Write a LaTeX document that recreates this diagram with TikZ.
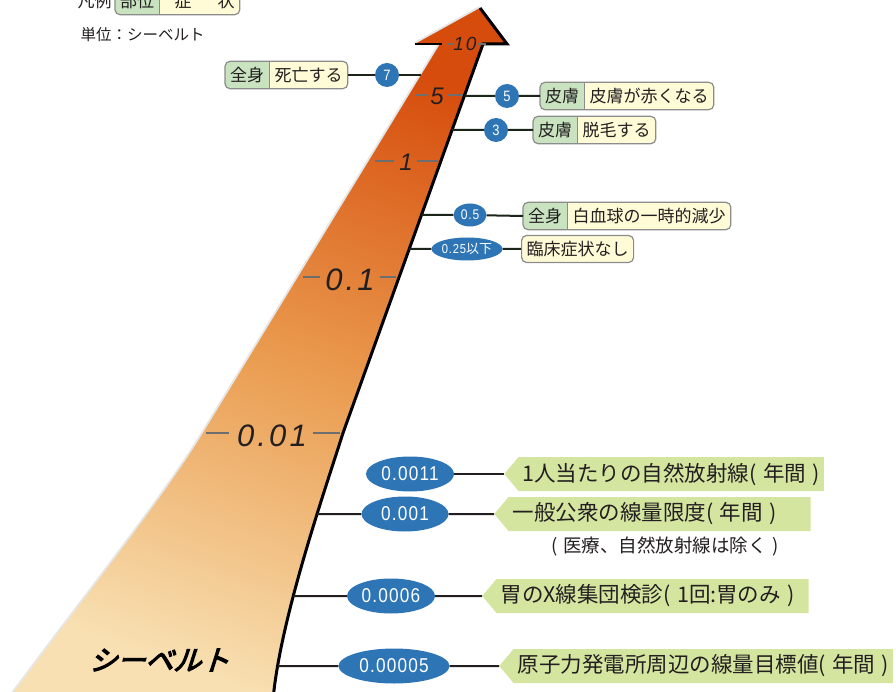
\documentclass[tikz,border=0pt]{standalone}
\usepackage{fontspec}
\setmainfont{Noto Sans CJK JP}
\newfontfamily\tickfont[LetterSpace=10]{Liberation Sans}
\newfontfamily\numfont[FakeStretch=0.86,LetterSpace=6]{Liberation Sans}
\newfontfamily\sbfont[FakeSlant=0.32,FakeBold=4]{Noto Sans CJK JP}
\usetikzlibrary{shapes.geometric,shapes.symbols,intersections,backgrounds}
\definecolor{txt}{HTML}{231F20}
\definecolor{blue1}{HTML}{2E75B6}
\definecolor{fillG}{HTML}{C9E3C1}
\definecolor{fillY}{HTML}{FFFBD6}
\definecolor{tagc}{HTML}{D4E5A0}
\definecolor{tickc}{HTML}{6E6E6E}
\definecolor{linec}{HTML}{1A2418}
\definecolor{atop}{HTML}{D64C0C}
\definecolor{amid}{HTML}{EA9C50}
\definecolor{abot}{HTML}{F8E0B2}
\definecolor{hl}{HTML}{E6E6E6}
\definecolor{bord}{HTML}{8C8C8C}
\newcommand\tsp{\hspace{0.3em}}
\tikzset{
 lineA/.style={draw=linec, line width=2pt},
 lineB/.style={draw=txt, line width=2pt},
 part/.style={inner xsep=5pt, inner ysep=0pt, minimum height=27pt, font=\fontsize{17}{20}\selectfont, text=txt},
 bubble/.style={circle, fill=blue1, text=white, inner sep=0pt, minimum size=24pt, font=\numfont\fontsize{15}{17}\selectfont},
 oval/.style={ellipse, fill=blue1, text=white, inner sep=0pt, minimum height=23pt, font=\numfont\fontsize{14}{16}\selectfont},
 bigoval/.style={ellipse, fill=blue1, text=white, inner sep=0pt, minimum width=88pt, minimum height=35pt, font=\numfont\fontsize{20}{23}\selectfont},
 tag/.style={signal, signal to=west, signal from=nowhere, signal pointer angle=100, fill=tagc, inner xsep=4pt, inner ysep=0pt, minimum height=34pt, font=\fontsize{21.5}{25}\selectfont, text=txt},
 ticklbl/.style={text=txt, inner sep=1pt},
 tickln/.style={draw=tickc, line width=2.5pt},
 boxborder/.style={draw=bord, line width=1.2pt},
}
\newcommand\twobox[4]{%
  \node[part, anchor=west] (#1g) at #2 {#3};
  \node[part, anchor=west] (#1y) at (#1g.east) {#4};
  \begin{scope}[on background layer]
    \fill[fillY, rounded corners=5pt] (#1g.south west) rectangle (#1y.north east);
    \begin{scope}
      \clip[rounded corners=5pt] (#1g.south west) rectangle (#1y.north east);
      \fill[fillG] (#1g.south west) rectangle (#1g.north east);
    \end{scope}
  \end{scope}
  \draw[boxborder, rounded corners=5pt] (#1g.south west) rectangle (#1y.north east);
  \draw[boxborder] (#1g.north east) -- (#1g.south east);
}
\newcommand\edgept[2]{%
  \path[name path=hp#1] (150,#2) -- (650,#2);
  \path[name intersections={of=redge and hp#1, by={#1}}];
}
\begin{document}
\begin{tikzpicture}[x=1pt,y=-1pt]
\useasboundingbox (0,0) rectangle (896,692);
% ---------------- arrow
\path[name path=redge] (483,44) -- (343,433) .. controls (324,493) and (280,620) .. (273,700);
\draw[hl, line width=4pt, line join=round] (8,700) .. controls (90,590) and (166,494) .. (203,433) -- (440,44) (415,44) -- (480,8);
\shade[top color=atop, bottom color=abot, middle color=amid, shading angle=-20]
  (8,700) .. controls (90,590) and (166,494) .. (203,433) -- (440,44) -- (415,44) -- (480,8)
  -- (507,44) -- (483,44) -- (343,433) .. controls (324,493) and (280,620) .. (273,700) -- cycle;
\draw[black, line width=3pt, line join=miter] (480,8) -- (507,44) -- (483,44) -- (343,433) .. controls (324,493) and (280,620) .. (273,700);
\draw[black, line width=2.5pt] (415,44) -- (442,44);
% ---------------- scale ticks
\node[ticklbl, font=\tickfont\itshape\fontsize{19}{21}\selectfont] (k10) at (465,44) {10};
\draw[tickln] (447,44) -- (453,44) (478,44) -- (486,44);
\node[ticklbl, font=\tickfont\itshape\fontsize{24}{26}\selectfont] (k5) at (437,96) {5};
\draw[tickln] (415,95) -- (428,95) (447,95) -- (463,95);
\node[ticklbl, font=\tickfont\itshape\fontsize{24}{26}\selectfont] (k1) at (406,162) {1};
\draw[tickln] (375,161) -- (394,161) (417,161) -- (438,161);
\node[ticklbl, font=\tickfont\itshape\fontsize{31}{33}\selectfont] (k01) at (350,280) {0.1};
\draw[tickln] (303,277) -- (320,277) (380,277) -- (396,277);
\node[ticklbl, font=\tickfont\itshape\fontsize{31}{33}\selectfont] (k001) at (272,436) {0.01};
\draw[tickln] (206,433) -- (229,433) (313,433) -- (340,433);
\node[font=\sbfont\fontsize{28}{31}\selectfont, text=black] (sv) at (159,660) {シーベルト};
% ---------------- edge points
\edgept{r5}{96}
\edgept{r3}{130}
\edgept{r05}{215}
\edgept{r025}{249}
\edgept{r2}{514}
\edgept{r3b}{596}
\edgept{r4}{666}
\coordinate (l7) at (421,75);
% ---------------- legend
\node[anchor=west, font=\fontsize{17}{20}\selectfont, text=txt] (hanrei) at (74,1) {凡例};
\twobox{lg}{(115,1)}{部位}{\hspace{10pt}症\hspace{26pt}状\hspace{10pt}}
\node[anchor=west, font=\fontsize{15.5}{18}\selectfont, text=txt] (unit) at (77,35) {単位：シーベルト};
% ---------------- upper symptoms
\node[bubble] (c7) at (387,75) {7};
\twobox{b7}{(225,75)}{全身}{死亡する}
\draw[lineA] (b7y.east) -- (c7) -- (l7);
\node[bubble] (c5) at (507,96) {5};
\twobox{b5}{(540,96)}{皮膚}{皮膚が赤くなる}
\draw[lineA] (r5) -- (c5) -- (b5g.west);
\node[bubble] (c3) at (496,130) {3};
\twobox{b3}{(533,130)}{皮膚}{脱毛する}
\draw[lineA] (r3) -- (c3) -- (b3g.west);
\node[oval, minimum width=33pt] (o05) at (470,215) {0.5};
\twobox{b05}{(523,216)}{全身}{白血球の一時的減少}
\draw[lineA] (r05) -- (o05) -- (b05g.west);
\node[oval, minimum width=62pt, font=\numfont\fontsize{13}{15}\selectfont] (o025) at (467,249) {0.25{\fontsize{13}{15}\rmfamily 以下}};
\node[part, fill=fillY, boxborder, rounded corners=5pt, anchor=west] (b025) at (521,249) {臨床症状なし};
\draw[lineA] (r025) -- (o025) -- (b025.west);
% ---------------- lower references
\node[bigoval] (v1) at (410,474) {0.0011};
\node[tag, anchor=west] (g1) at (504,474) {1人当たりの自然放射線(\tsp 年間\tsp )};
\draw[lineB] (v1) -- (g1.west);
\node[bigoval, minimum width=87pt] (v2) at (405,514) {0.001};
\node[tag, anchor=west, text width=294pt, align=left] (g2) at (494,514) {一般公衆の線量限度(\tsp 年間\tsp )};
\draw[lineB] (r2) -- (v2) -- (g2.west);
\node[font=\fontsize{18.5}{21}\selectfont, text=txt] (note) at (665,546) {(\tsp 医療、自然放射線は除く\tsp )};
\node[bigoval] (v3) at (391,596) {0.0006};
\node[tag, anchor=west, text width=304pt, align=left] (g3) at (482,596) {胃のX線集団検診(\tsp 1回:胃のみ\tsp )};
\draw[lineB] (r3b) -- (v3) -- (g3.west);
\node[bigoval, minimum width=111pt] (v4) at (394,666) {0.00005};
\node[tag, anchor=west] (g4) at (499,666) {原子力発電所周辺の線量目標値(\tsp 年間\tsp )};
\draw[lineB] (r4) -- (v4) -- (g4.west);
\end{tikzpicture}
\end{document}
